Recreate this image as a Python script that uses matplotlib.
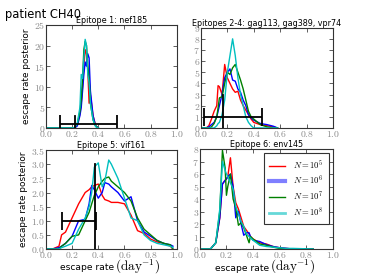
import matplotlib
matplotlib.use("Agg")
import matplotlib.pyplot as plt
from matplotlib.ticker import FuncFormatter

plt.rcParams['mathtext.fontset'] = 'cm'
plt.rcParams['font.family'] = ['DejaVu Sans']

labels = [r'$N = 10^5$', r'$N = 10^6$', r'$N = 10^7$', r'$N = 10^8$']
colors = ['red', 'blue', 'green', 'c']

titles = ['Epitope 1: nef185', 'Epitopes 2-4: gag113, gag389, vpr74',
          'Epitope 5: vif161', 'Epitope 6: env145']
ymax = [25, 9, 3.5, 8]
ysteps = [5, 1, 0.5, 1]

# Panel 1: nef185
x1 = [0.0, 0.20, 0.22, 0.24, 0.26, 0.27, 0.28, 0.29, 0.30, 0.31, 0.32, 0.33, 0.34, 0.36, 0.38, 0.40]
r1 = [0, 0, 0.1, 0.8, 3.5, 6, 10, 15, 19, 18, 14, 6, 8, 3, 0.5, 0]
b1 = [0, 0, 0.0, 0.5, 3.0, 5, 9, 13, 16, 15, 18, 17, 9, 3, 0.5, 0]
g1 = [0, 0, 0.1, 1.0, 4.0, 7, 12, 19, 21, 20, 15, 12, 6, 2, 0.5, 0]
c1 = [0, 0, 0.1, 1.2, 5.0, 13, 12, 17, 21.5, 20, 13, 11, 6, 2, 0.3, 0]

# Panel 2: gag113, gag389, vpr74
x2 = [0.0, 0.04, 0.06, 0.08, 0.10, 0.12, 0.13, 0.14, 0.16, 0.18, 0.20, 0.22, 0.24, 0.26, 0.28,
      0.30, 0.32, 0.34, 0.36, 0.38, 0.40, 0.45, 0.50, 0.55, 0.58]
r2 = [0, 0, 0.2, 0.8, 1.5, 2.0, 3.8, 3.7, 3.0, 5.7, 4.5, 4.0, 3.5, 3.2, 3.3,
      2.5, 2.0, 1.6, 1.2, 0.8, 0.5, 0.3, 0.2, 0.1, 0.0]
b2 = [0, 0, 0.1, 0.3, 0.5, 1.0, 1.5, 2.0, 3.0, 4.5, 5.0, 5.3, 4.3, 4.2, 3.5,
      3.2, 2.5, 2.0, 1.2, 0.9, 0.7, 0.4, 0.3, 0.15, 0.0]
g2 = [0, 0, 0.0, 0.1, 0.4, 1.0, 1.8, 2.7, 2.8, 4.0, 5.0, 4.8, 5.4, 5.7, 5.0,
      4.3, 3.5, 2.5, 1.5, 1.0, 0.8, 0.3, 0.1, 0.0, 0.0]
c2 = [0, 0, 0.0, 0.0, 0.0, 0.2, 0.4, 0.5, 1.2, 2.5, 5.0, 6.5, 8.0, 6.5, 4.5,
      3.0, 2.0, 1.0, 0.5, 0.2, 0.0, 0.0, 0.0, 0.0, 0.0]

# Panel 3: vif161
x3 = [0.0, 0.05, 0.10, 0.12, 0.15, 0.20, 0.25, 0.30, 0.33, 0.35, 0.37, 0.40, 0.43, 0.45, 0.48,
      0.50, 0.55, 0.60, 0.65, 0.70, 0.75, 0.80, 0.85, 0.90, 0.95, 0.97]
r3 = [0, 0.0, 0.1, 0.5, 0.6, 1.1, 1.6, 2.0, 2.1, 2.2, 2.25, 2.3, 1.9, 1.75, 1.7,
      1.65, 1.65, 1.6, 1.2, 0.65, 0.55, 0.35, 0.25, 0.2, 0.1, 0.0]
b3 = [0, 0.0, 0.05, 0.1, 0.2, 0.45, 1.0, 1.05, 1.6, 2.25, 2.1, 1.8, 2.0, 2.35, 2.3,
      2.2, 2.0, 1.7, 1.85, 1.0, 0.6, 0.45, 0.3, 0.2, 0.15, 0.1]
g3 = [0, 0.0, 0.0, 0.1, 0.2, 0.45, 0.5, 1.0, 1.3, 1.6, 1.9, 2.2, 2.4, 2.5, 2.55,
      2.4, 2.2, 2.0, 1.7, 1.1, 0.7, 0.5, 0.3, 0.2, 0.15, 0.0]
c3 = [0, 0.0, 0.0, 0.05, 0.1, 0.2, 0.7, 1.1, 1.5, 2.0, 2.9, 3.05, 2.2, 2.4, 3.15,
      3.0, 2.5, 1.8, 1.1, 1.0, 0.5, 0.3, 0.2, 0.15, 0.1, 0.05]

# Panel 4: env145
x4 = [0.0, 0.08, 0.12, 0.15, 0.17, 0.19, 0.20, 0.21, 0.23, 0.25, 0.27, 0.29, 0.31, 0.33, 0.35,
      0.37, 0.38, 0.40, 0.45, 0.50, 0.55, 0.60, 0.65, 0.70, 0.85]
r4 = [0, 0, 0.5, 2.5, 5.2, 5.5, 5.6, 5.8, 7.3, 5.0, 3.7, 3.2, 2.5, 1.8, 1.5,
      1.2, 1.0, 0.8, 0.5, 0.4, 0.2, 0.1, 0.05, 0.0, 0.0]
b4 = [0, 0, 0.5, 2.5, 5.2, 5.5, 5.6, 5.8, 6.0, 5.0, 2.5, 3.0, 2.0, 1.1, 1.3,
      1.3, 1.0, 0.7, 0.6, 0.35, 0.2, 0.1, 0.05, 0.0, 0.0]
g4 = [0, 0, 0.5, 3.0, 7.9, 6.5, 4.3, 5.0, 6.0, 4.0, 3.3, 1.9, 2.1, 1.7, 1.1,
      0.5, 1.0, 0.8, 0.4, 0.3, 0.15, 0.05, 0.0, 0.0, 0.0]
c4 = [0, 0, 0.5, 3.2, 7.0, 6.3, 6.0, 5.8, 5.3, 4.8, 3.4, 2.8, 2.2, 1.8, 1.2,
      1.0, 0.9, 0.7, 0.3, 0.2, 0.15, 0.1, 0.05, 0.05, 0.0]

xs = [x1, x2, x3, x4]
series = [[r1, b1, g1, c1], [r2, b2, g2, c2], [r3, b3, g3, c3], [r4, b4, g4, c4]]

# mean escape rate and interval (error bars)
means = [0.22, 0.17, 0.375, None]
err_lo = [0.11, 0.02, 0.12, None]
err_hi = [0.54, 0.46, 0.38, None]

fig = plt.figure(figsize=(3.7, 2.77), dpi=100)
pos = [[0.124, 0.538, 0.354, 0.372],
       [0.543, 0.538, 0.357, 0.362],
       [0.124, 0.101, 0.354, 0.357],
       [0.540, 0.101, 0.360, 0.361]]

fmt = FuncFormatter(lambda v, p: r'$%.1f$' % v)
for i in range(4):
    ax = fig.add_axes(pos[i])
    for k in range(4):
        ax.plot(xs[i], series[i][k], color=colors[k], lw=1.0, label=labels[k])
    if means[i] is not None:
        ax.plot([means[i], means[i]], [0, 3], color='black', lw=1.3)
        ax.errorbar([(err_lo[i] + err_hi[i]) / 2], [1],
                    xerr=[[(err_hi[i] - err_lo[i]) / 2]],
                    color='black', lw=1.3, capsize=6.5, capthick=1.3)
    ax.set_xlim(0, 1)
    ax.set_ylim(0, ymax[i])
    ax.set_xticks([0, 0.2, 0.4, 0.6, 0.8, 1.0])
    yt = []
    v = 0.0
    while v <= ymax[i] + 1e-9:
        yt.append(v)
        v += ysteps[i]
    ax.set_yticks(yt)
    if ysteps[i] < 1:
        ax.yaxis.set_major_formatter(FuncFormatter(lambda v, p: r'$%.1f$' % v))
    else:
        ax.yaxis.set_major_formatter(FuncFormatter(lambda v, p: r'$%d$' % round(v)))
    ax.xaxis.set_major_formatter(fmt)
    ax.tick_params(direction='in', top=True, right=True, labelsize=7,
                   labelcolor='#8a8a8a', length=3, width=0.6, pad=0.5, color='#444444')
    for s in ax.spines.values():
        s.set_linewidth(0.8)
        s.set_color('#333333')
    ax.set_title(titles[i], fontsize=5.8, pad=1.2)
    if i in (0, 2):
        ax.set_ylabel('escape rate posterior', fontsize=6.4, labelpad=2)
    if i in (2, 3):
        ax.text(0.52, -0.215, 'escape rate', transform=ax.transAxes,
                ha='right', va='baseline', fontsize=6.6)
        ax.text(0.53, -0.215, r'$(\mathrm{day}^{-1})$', transform=ax.transAxes,
                ha='left', va='baseline', fontsize=9.5)
    if i == 3:
        leg = ax.legend(fontsize=6.2, loc='upper right', handlelength=1.9,
                        borderpad=0.6, labelspacing=0.35, handletextpad=0.9,
                        borderaxespad=0.5,
                        fancybox=False, framealpha=1, edgecolor='#333333')
        leg.get_frame().set_linewidth(0.8)
        leg.legend_handles[1].set_linewidth(3)
        leg.legend_handles[1].set_alpha(0.5)
        leg.legend_handles[3].set_linewidth(2)
        leg.legend_handles[3].set_alpha(0.6)

fig.text(0.014, 0.935, 'patient CH40', fontsize=8.3)
fig.savefig('out.png', dpi=100)
